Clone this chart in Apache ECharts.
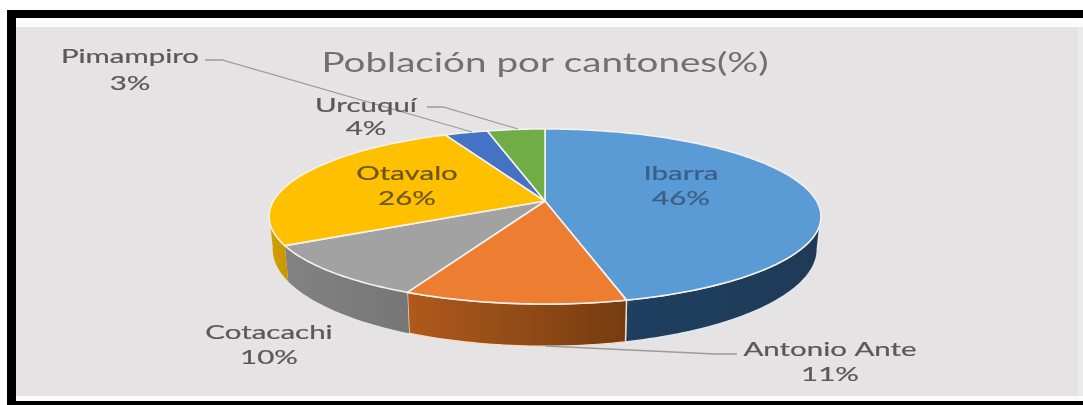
<!DOCTYPE html>
<html>
<head>
<meta charset="utf-8">
<style>html,body{margin:0;padding:0;background:#fff}#chart{width:1083px;height:405px}</style>
<script src="https://cdn.jsdelivr.net/npm/echarts@6/dist/echarts.min.js"></script>
</head>
<body>
<div id="chart"></div>
<script>
// Población por cantones, percentages per canton
const cantones = ['Ibarra', 'Antonio Ante', 'Cotacachi', 'Otavalo', 'Pimampiro', 'Urcuquí'];
const porcentajes = [46, 11, 10, 26, 3, 4];
const titulo = 'Población por cantones(%)';

// Slice colours: top face, the two ends of the side gradient, side outline
const coloresCara = ['#5B9BD5', '#ED7D31', '#A2A2A2', '#FFC000', '#4472C4', '#70AD47'];
const coloresLado = [
  ['#1F3F60', '#1F3A57'], ['#B05A1C', '#753C10'], ['#828282', '#767676'],
  ['#D2A000', '#C89600'], ['#2F5597', '#2F5597'], ['#4E7A32', '#4E7A32']
];
const bordesLado = ['#E4E8EC', '#F6DCC6', null, null, null, null];
const textoColor = ['#3A5F86', '#595959', '#595959', '#6E5519', '#595959', '#595959'];

// Label anchors per canton: centre x, baseline rows
const etiquetas = [
  { x: 681, y1: 174, y2: 199 }, { x: 830, y1: 350, y2: 375 }, { x: 269, y1: 333, y2: 358 },
  { x: 407, y1: 174, y2: 199 }, { x: 130, y1: 57, y2: 84 }, { x: 366, y1: 106, y2: 129 }
];
// Leader lines for the outside labels (index into cantones -> polyline)
const guias = {
  1: [[737, 354], [715, 354], [545, 346]],
  4: [[205, 60], [222, 60], [472, 132]],
  5: [[427, 107], [443, 107], [518, 129]]
};

// Tilted-disc projection: upper face and lower rim of the pie
const tapa = { cx: 545, cy: 201, r: 271.6, h: 84.8, k: 0.177 };
const base = { cx: 545, cy: 232, r: 268, h: 94, k: 0.177 };

function proyectar(d, theta) {
  const X = Math.sin(theta), Y = -Math.cos(theta), s = 1 / (1 - d.k * Y);
  return [d.cx + d.r * X * s, d.cy + d.h * Y * s];
}
function arco(d, a0, a1) {
  const n = Math.max(2, Math.ceil(Math.abs(a1 - a0) / 0.02));
  const pts = [];
  for (let i = 0; i <= n; i++) pts.push(proyectar(d, a0 + (a1 - a0) * i / n));
  return pts;
}
const total = porcentajes.reduce((a, b) => a + b, 0);
function rango(i) {
  let acum = 0;
  for (let j = 0; j < i; j++) acum += porcentajes[j];
  return [acum / total * 2 * Math.PI, (acum + porcentajes[i]) / total * 2 * Math.PI];
}

const VIS0 = 100 * Math.PI / 180, VIS1 = 261 * Math.PI / 180; // visible part of the rim
const BORDE = '#F4F1EE';

function pintarLado(params, api) {
  const i = params.dataIndex;
  const [a0, a1] = rango(i);
  const b0 = Math.max(a0, VIS0), b1 = Math.min(a1, VIS1);
  if (b1 <= b0) return { type: 'group', children: [] };
  const sup = arco(tapa, b0, b1), inf = arco(base, b1, b0);
  const xs = sup.concat(inf).map(p => p[0]);
  const g = new echarts.graphic.LinearGradient(Math.min(...xs), 0, Math.max(...xs), 0,
    [{ offset: 0, color: coloresLado[i][0] }, { offset: 1, color: coloresLado[i][1] }], true);
  return {
    type: 'polygon',
    shape: { points: sup.concat(inf) },
    style: { fill: g, stroke: bordesLado[i], lineWidth: 1.4, lineJoin: 'round' }
  };
}
function pintarCara(params, api) {
  const i = params.dataIndex;
  const [a0, a1] = rango(i);
  return {
    type: 'polygon',
    shape: { points: [[tapa.cx, tapa.cy]].concat(arco(tapa, a0, a1)) },
    style: { fill: coloresCara[i], stroke: BORDE, lineWidth: 1.6, lineJoin: 'round' }
  };
}
function pintarEtiqueta(params, api) {
  const i = params.dataIndex;
  const e = etiquetas[i];
  const fuente = '19px Lato, "Open Sans", sans-serif';
  const rasgo = { font: fuente, fill: textoColor[i], stroke: textoColor[i], lineWidth: 0.2, align: 'center', verticalAlign: 'middle' };
  const hijos = [
    { type: 'text', x: e.x, y: e.y1, scaleX: 1.55, style: Object.assign({ text: cantones[i] }, rasgo) },
    { type: 'text', x: e.x, y: e.y2, scaleX: 1.55, style: Object.assign({ text: api.value(0) + '%' }, rasgo) }
  ];
  if (guias[i]) {
    hijos.push({ type: 'polyline', shape: { points: guias[i] },
      style: { stroke: '#9C9C9C', lineWidth: 1.3, fill: 'none' } });
  }
  return { type: 'group', children: hijos };
}

const chart = echarts.init(document.getElementById('chart'), null, { renderer: 'canvas' });
chart.setOption({
  animation: false,
  backgroundColor: '#FFFFFF',
  graphic: [
    { type: 'rect', z: 0, shape: { x: 7, y: 10, width: 1076, height: 395 }, style: { fill: '#000000' } },
    { type: 'rect', z: 1, shape: { x: 16, y: 18, width: 1067, height: 383 }, style: { fill: '#FCFCFC' } },
    { type: 'rect', z: 2, shape: { x: 16, y: 27, width: 1062, height: 369 }, style: { fill: '#E5E3E4' } },
    { type: 'rect', z: 2, shape: { x: 1078, y: 27, width: 5, height: 369 }, style: { fill: '#EBEAEA' } },
    { type: 'text', z: 3, x: 545, y: 63, scaleX: 1.43,
      style: { text: titulo, font: '27px Lato, "Open Sans", sans-serif', fill: '#707070', align: 'center', verticalAlign: 'middle' } }
  ],
  series: [
    { type: 'custom', coordinateSystem: 'none', z: 3, silent: true, renderItem: pintarLado, data: porcentajes },
    { type: 'custom', coordinateSystem: 'none', z: 4, silent: true, renderItem: pintarCara, data: porcentajes },
    { type: 'custom', coordinateSystem: 'none', z: 5, silent: true, renderItem: pintarEtiqueta, data: porcentajes }
  ]
});
</script>
</body>
</html>
